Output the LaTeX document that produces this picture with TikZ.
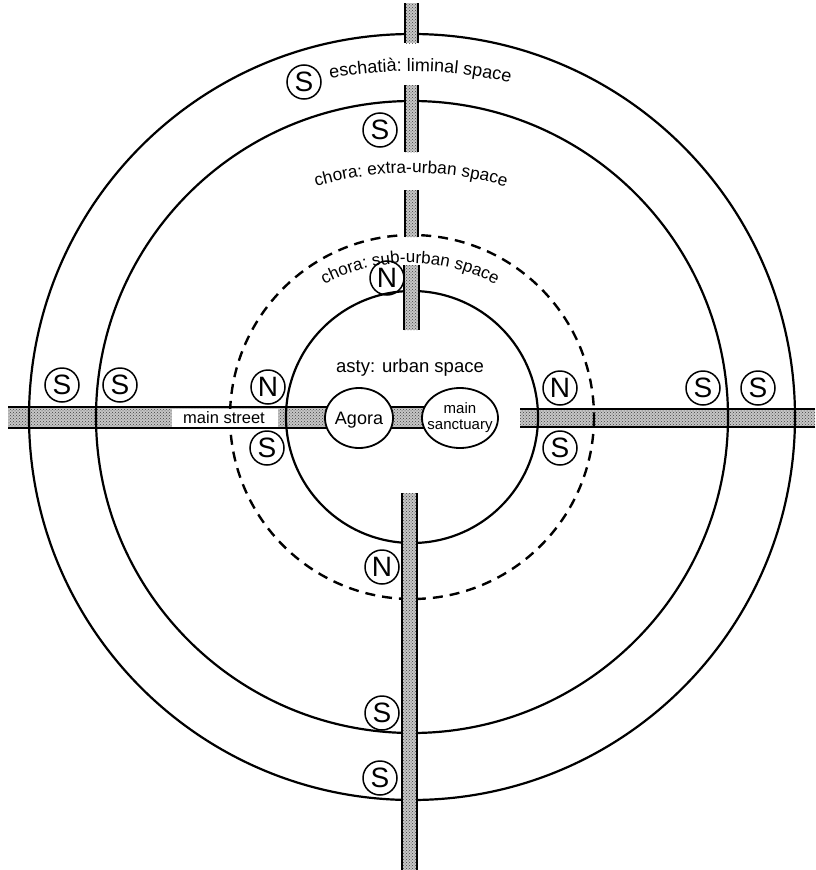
\documentclass[tikz,border=0pt]{standalone}
\usepackage{fontspec}
\setmainfont{Liberation Sans}
\usetikzlibrary{decorations.text,patterns,shapes.geometric}
\newcommand\archfont{\fontsize{18}{20}\selectfont}
\newcommand\hroad[4]{% x1, x2, y1, y2
  \fill[roadfill] (#1,#3) rectangle (#2,#4);
  \draw[roadedge] (#1,#3) -- (#2,#3) (#1,#4) -- (#2,#4);}
\newcommand\vroad[4]{% x1, x2, y1, y2
  \fill[roadfill] (#1,#3) rectangle (#2,#4);
  \draw[roadedge] (#1,#3) -- (#1,#4) (#2,#3) -- (#2,#4);}
\begin{document}
\begin{tikzpicture}[x=1pt,y=-1pt,
  ring/.style={line width=2.2pt},
  roadfill/.style={fill=gray!45, postaction={pattern=crosshatch dots, pattern color=black!75}},
  roadedge/.style={line width=1.5pt},
  sign/.style={circle, draw, line width=1.5pt, minimum size=34pt, inner sep=0pt, font=\fontsize{28}{28}\selectfont},
  place/.style={ellipse, draw, fill=white, line width=1.8pt, inner sep=0pt},
  lbl/.style={inner sep=0pt}]
\useasboundingbox[fill=white] (0,0) rectangle (816,870);
\coordinate (c) at (412,417);
% horizontal roads
\hroad{8}{359}{407}{428}
\hroad{359}{460}{407}{428}
\hroad{520}{815}{409}{427}
% rings
\draw[ring] (c) circle[radius=383];
\draw[ring] (c) circle[radius=316];
\draw[ring, line width=2.4pt, dash pattern=on 10pt off 7pt] (c) circle[radius=182];
\draw[ring] (c) circle[radius=126];
% main street label
\fill[white] (172,408.5) rectangle (278,426.5);
\node[lbl, anchor=base, font=\fontsize{16.5}{18}\selectfont] (street) at (224,423) {main street};
% vertical roads
\vroad{405}{418}{3}{43}
\vroad{405}{418}{85}{152}
\vroad{405}{418}{190}{237}
\vroad{404}{419}{265}{330}
\vroad{402}{417}{493}{872}
% agora and sanctuary
\node[place, minimum width=68pt, minimum height=60pt] (agora) at (359,418) {};
\node[place, minimum width=76pt, minimum height=60pt] (sanct) at (460,418) {};
\node[lbl, anchor=base, font=\fontsize{18}{20}\selectfont] (agoratxt) at (359,424) {Agora};
\node[lbl, align=center, font=\fontsize{15}{16}\selectfont] (sancttxt) at (460,418) {main\\sanctuary};
\node[lbl, anchor=base, font=\fontsize{18.5}{20}\selectfont] (asty) at (410,372) {asty: urban space};
% arched labels
\path[decorate, decoration={text along path, text align=center,
  text={|\archfont|eschatià: liminal space}}]
  (325,79) .. controls (390,68) and (450,68) .. (515,84);
\path[decorate, decoration={text along path, text align=center,
  text={|\fontsize{17.3}{20}\selectfont|chora: extra-urban space}}]
  (411,509) ++(250:336) arc[start angle=250, end angle=290, radius=336];
\path[decorate, decoration={text along path, text align=center,
  text={|\fontsize{17}{20}\selectfont|chora: sub-urban space}}]
  (410,444) ++(230:181) arc[start angle=230, end angle=310, radius=181];
% S / N signs
\node[sign] (s1) at (304,82) {S};
\node[sign] (s2) at (380,130) {S};
\node[sign] (n1) at (387,278) {N};
\node[sign] (n2) at (268,387) {N};
\node[sign] (s3) at (267,448) {S};
\node[sign] (n3) at (560,388) {N};
\node[sign] (s4) at (560,448) {S};
\node[sign] (s5) at (62,385) {S};
\node[sign] (s6) at (120,385) {S};
\node[sign] (s7) at (703,388) {S};
\node[sign] (s8) at (758,388) {S};
\node[sign] (n4) at (382,567) {N};
\node[sign] (s9) at (382,713) {S};
\node[sign] (s10) at (380,778) {S};
\end{tikzpicture}
\end{document}
